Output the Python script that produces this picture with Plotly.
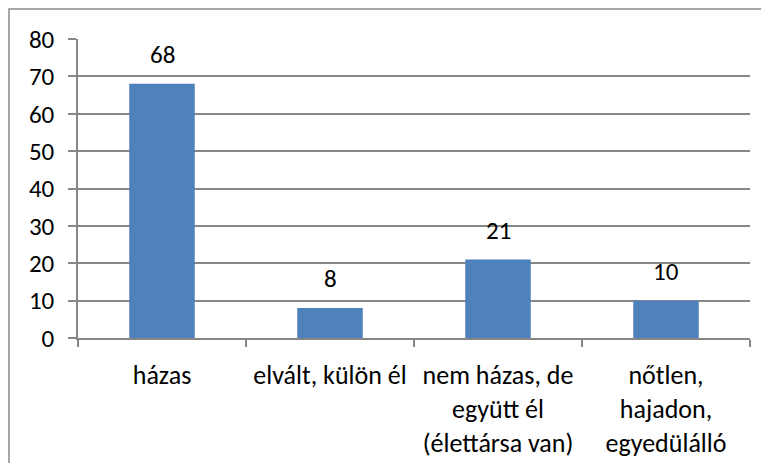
import plotly.graph_objects as go

categories = ["házas", "elvált, külön él", "nem házas, de<br>együtt él<br>(élettársa van)", "nőtlen,<br>hajadon,<br>egyedülálló"]
values = [68, 8, 21, 10]
y_ticks = [0, 10, 20, 30, 40, 50, 60, 70, 80]

# page body has an 8px margin, so the figure starts at (8, 8)
OFF = 8
W, H = 769 - OFF, 463 - OFF
ml, mr, mt, mb = 78 - OFF, 19, 39 - OFF, 125
pw, ph = W - ml - mr, H - mt - mb

FONT = "Carlito, Lato"
GRID = "#878787"
BAR = "#4F81BD"

fig = go.Figure(go.Bar(
    x=categories, y=values, marker=dict(color=BAR, line=dict(width=0)),
    width=0.39, hoverinfo="x+y",
))

for c, v in zip(categories, values):
    fig.add_annotation(x=c, y=v, xref="x", yref="y", text=str(v), showarrow=False,
                       yanchor="bottom", yshift=12, font=dict(family=FONT, size=25, color="#000"))

# outer chart border
fig.add_shape(type="rect", xref="paper", yref="paper",
              x0=(1 - ml) / pw, x1=(W + 5 - ml) / pw,
              y0=(H - mb - (H + 5)) / ph, y1=(H - mb - 1) / ph,
              line=dict(color="#8a8a8a", width=1.5), fillcolor="rgba(0,0,0,0)")

fig.update_layout(
    width=W, height=H, margin=dict(l=ml, r=mr, t=mt, b=mb, autoexpand=False),
    paper_bgcolor="white", plot_bgcolor="white", showlegend=False,
    font=dict(family=FONT, size=25, color="#000"),
)
fig.update_xaxes(type="category", range=[-0.5, 3.5], tickson="boundaries", automargin=False,
                 ticks="outside", ticklen=7, tickcolor=GRID, tickwidth=1.5,
                 showline=True, linecolor=GRID, linewidth=1.5, showgrid=False,
                 tickfont=dict(family=FONT, size=26), ticklabelstandoff=13)
fig.update_yaxes(range=[0, 80], tickvals=y_ticks, ticks="outside", ticklen=8, automargin=False,
                 tickcolor=GRID, tickwidth=1.5, showline=True, linecolor=GRID, linewidth=1.5,
                 showgrid=True, gridcolor=GRID, gridwidth=1.5, zeroline=False,
                 tickfont=dict(family=FONT, size=25), ticklabelstandoff=9)

fig.write_html("out.html")
